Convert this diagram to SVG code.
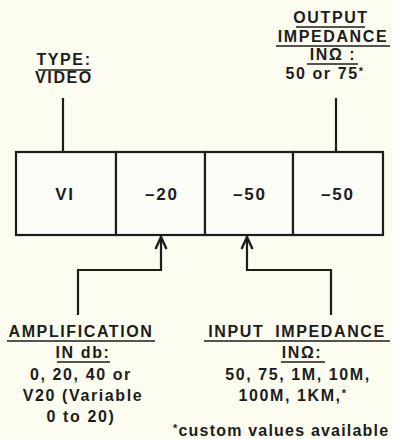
<svg xmlns="http://www.w3.org/2000/svg" width="393" height="439" viewBox="0 0 393 439">
<style>
  .t { font-family: "Liberation Sans", Arial, sans-serif; font-weight: bold; font-size: 16px; letter-spacing: 1.6px; fill: #1c1c1c; text-anchor: middle; }
  .b { font-size: 17px; letter-spacing: 1.8px; }
  .ast { font-size: 11px; }
  .ul { stroke: #1c1c1c; stroke-width: 1.6; }
  .ln { stroke: #1c1c1c; stroke-width: 2.2; fill: none; }
  .cell { fill: #fdfdf7; stroke: #1c1c1c; stroke-width: 2.2; }
</style>
<defs>
  <marker id="ah" viewBox="-15 -8 17 16" refX="0" refY="0" markerWidth="17" markerHeight="16" markerUnits="userSpaceOnUse" orient="auto">
    <path d="M-12,-5.5 L0,0 L-12,5.5" fill="none" stroke="#1c1c1c" stroke-width="2.4" stroke-linejoin="miter"/>
  </marker>
</defs>
<rect x="0" y="0" width="393" height="439" fill="#fcfcf1"/>

<g id="label-type">
  <text class="t" x="64" y="65">TYPE:</text>
  <line class="ul" x1="38" y1="70" x2="91" y2="70"/>
  <text class="t" x="64" y="83">VIDEO</text>
</g>

<g id="label-output">
  <text class="t" x="331" y="23">OUTPUT</text>
  <line class="ul" x1="296" y1="27" x2="365" y2="27"/>
  <text class="t" x="333" y="42">IMPEDANCE</text>
  <line class="ul" x1="276" y1="46" x2="390" y2="46"/>
  <text class="t" x="333" y="60">INΩ :</text>
  <line class="ul" x1="307" y1="64" x2="358" y2="64"/>
  <text class="t" x="325" y="79">50 or 75<tspan class="ast" dy="-4">*</tspan></text>
</g>

<g id="cell-vi">
  <rect class="cell" x="16" y="152" width="100" height="83"/>
  <text class="t b" x="65" y="200">VI</text>
</g>
<g id="cell-20">
  <rect class="cell" x="116" y="152" width="89" height="83"/>
  <text class="t b" x="162" y="200">–20</text>
</g>
<g id="cell-50a">
  <rect class="cell" x="205" y="152" width="88" height="83"/>
  <text class="t b" x="250" y="200">–50</text>
</g>
<g id="cell-50b">
  <rect class="cell" x="293" y="152" width="90" height="83"/>
  <text class="t b" x="338" y="200">–50</text>
</g>

<g id="label-amplification">
  <text class="t" x="81" y="337">AMPLIFICATION</text>
  <line class="ul" x1="7" y1="341" x2="155" y2="341"/>
  <text class="t" x="83" y="358">IN db:</text>
  <line class="ul" x1="57" y1="362" x2="110" y2="362"/>
  <text class="t" x="81" y="380">0, 20, 40 or</text>
  <text class="t" x="83" y="401">V20 (Variable</text>
  <text class="t" x="81" y="422">0 to 20)</text>
</g>

<g id="label-input">
  <text class="t" x="297" y="337" word-spacing="5">INPUT IMPEDANCE</text>
  <line class="ul" x1="204" y1="341" x2="390" y2="341"/>
  <text class="t" x="302" y="358">INΩ:</text>
  <line class="ul" x1="281" y1="362" x2="325" y2="362"/>
  <text class="t" x="298" y="380">50, 75, 1M, 10M,</text>
  <text class="t" x="293" y="401">100M, 1KM,<tspan class="ast" dy="-4">*</tspan></text>
</g>

<g id="footnote">
  <text class="t" x="173" y="436" style="text-anchor:start; letter-spacing:1.2px"><tspan class="ast" dy="-4">*</tspan><tspan dy="4">custom values available</tspan></text>
</g>

<g id="connectors">
  <line class="ln" x1="63" y1="98" x2="63" y2="152"/>
  <line class="ln" x1="336" y1="98" x2="336" y2="152"/>
  <path class="ln" d="M78,315 V270 H161 V237" marker-end="url(#ah)"/>
  <path class="ln" d="M331,315 V270 H247 V237" marker-end="url(#ah)"/>
</g>
</svg>
